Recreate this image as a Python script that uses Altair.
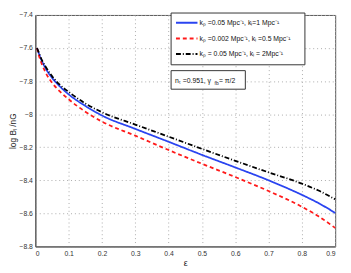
import altair as alt
import pandas as pd

eps = [0.005, 0.01, 0.02, 0.03, 0.05, 0.075, 0.1, 0.15, 0.2, 0.3, 0.4, 0.5, 0.6, 0.7, 0.8, 0.85, 0.9]
blue = [-7.60, -7.63, -7.68, -7.72, -7.78, -7.835, -7.88, -7.95, -8.008, -8.089, -8.167, -8.246, -8.322, -8.40, -8.488, -8.538, -8.597]
red = [-7.60, -7.64, -7.70, -7.745, -7.81, -7.865, -7.91, -7.985, -8.045, -8.13, -8.217, -8.30, -8.38, -8.465, -8.56, -8.618, -8.688]
black = [-7.60, -7.625, -7.675, -7.71, -7.77, -7.825, -7.865, -7.935, -7.988, -8.063, -8.136, -8.21, -8.282, -8.352, -8.42, -8.462, -8.515]

series_names = [
    "kₚ =0.05 Mpc⁻¹, kₗ=1 Mpc⁻¹",
    "kₚ =0.002 Mpc⁻¹, kₗ =0.5 Mpc⁻¹",
    "kₚ = 0.05 Mpc⁻¹, kₗ = 2Mpc⁻¹",
]
series_colors = ["#2a44f0", "#ff1a1a", "#000000"]
series_dashes = [[1, 0], [4, 3], [5, 2, 1, 2]]

x_ticks = [0, 0.1, 0.2, 0.3, 0.4, 0.5, 0.6, 0.7, 0.8, 0.9]
y_ticks = [-8.8, -8.6, -8.4, -8.2, -8.0, -7.8, -7.6, -7.4]

rows = []
for name, vals in zip(series_names, [blue, red, black]):
    for e, v in zip(eps, vals):
        rows.append({"e": e, "v": v, "s": name})
df = pd.DataFrame(rows)

FONT = "Liberation Sans"

axis_style = dict(grid=True, gridDash=[1, 3], gridColor="#aaaaaa", ticks=False,
                  labelFontSize=7, titleFontWeight="normal",
                  labelPadding=3, domainColor="#555555",
                  labelColor="#333333", titleColor="#222222",
                  labelFont=FONT, titleFont=FONT)

lines = alt.Chart(df).mark_line(strokeWidth=1.8, interpolate="monotone").encode(
    x=alt.X("e:Q", scale=alt.Scale(domain=[0, 0.9], nice=False),
            axis=alt.Axis(values=x_ticks, format="~g", title="ε", titlePadding=3,
                          titleFontSize=9, **axis_style)),
    y=alt.Y("v:Q", scale=alt.Scale(domain=[-8.8, -7.4], nice=False),
            axis=alt.Axis(values=y_ticks, format="~g", title="log Bₗ /nG", titlePadding=2,
                          titleFontSize=8.5, **axis_style)),
    color=alt.Color("s:N", scale=alt.Scale(domain=series_names, range=series_colors), legend=None),
    strokeDash=alt.StrokeDash("s:N", scale=alt.Scale(domain=series_names, range=series_dashes), legend=None),
)

one = pd.DataFrame({"a": [0]})

def rect(x1, x2, y1, y2):
    return alt.Chart(one).mark_rect(fill="white", stroke="#333333", strokeWidth=1).encode(
        x=alt.value(x1), x2=alt.value(x2), y=alt.value(y1), y2=alt.value(y2))

def label(t, x, y, size=7):
    return alt.Chart(pd.DataFrame({"t": [t]})).mark_text(
        align="left", baseline="alphabetic", fontSize=size, font=FONT, color="#111111"
    ).encode(text="t:N", x=alt.value(x), y=alt.value(y))

legend_layers = [rect(139, 276, -2, 51)]
for i, (name, col, dash) in enumerate(zip(series_names, series_colors, series_dashes)):
    yy = 8 + 16 * i
    legend_layers.append(
        alt.Chart(one).mark_rule(color=col, strokeDash=dash, strokeWidth=2).encode(
            x=alt.value(144), x2=alt.value(166), y=alt.value(yy)))
    legend_layers.append(label(name, 168, yy + 2.5))

ann = [rect(139, 215, 57, 76),
       label("nₜ =0.951, γ", 143, 70),
       label("fb", 183.5, 72, 5),
       label(" = π/2", 188, 70)]

chart = alt.layer(lines, *legend_layers, *ann).properties(
    width=307, height=237,
    autosize=alt.AutoSizeParams(type="none"),
    padding={"left": 28, "top": 4, "right": 8, "bottom": 22},
    background="white",
).configure_view(stroke="#555555", strokeWidth=1)

chart.save("out.html", embed_options={"renderer": "svg", "actions": False})
